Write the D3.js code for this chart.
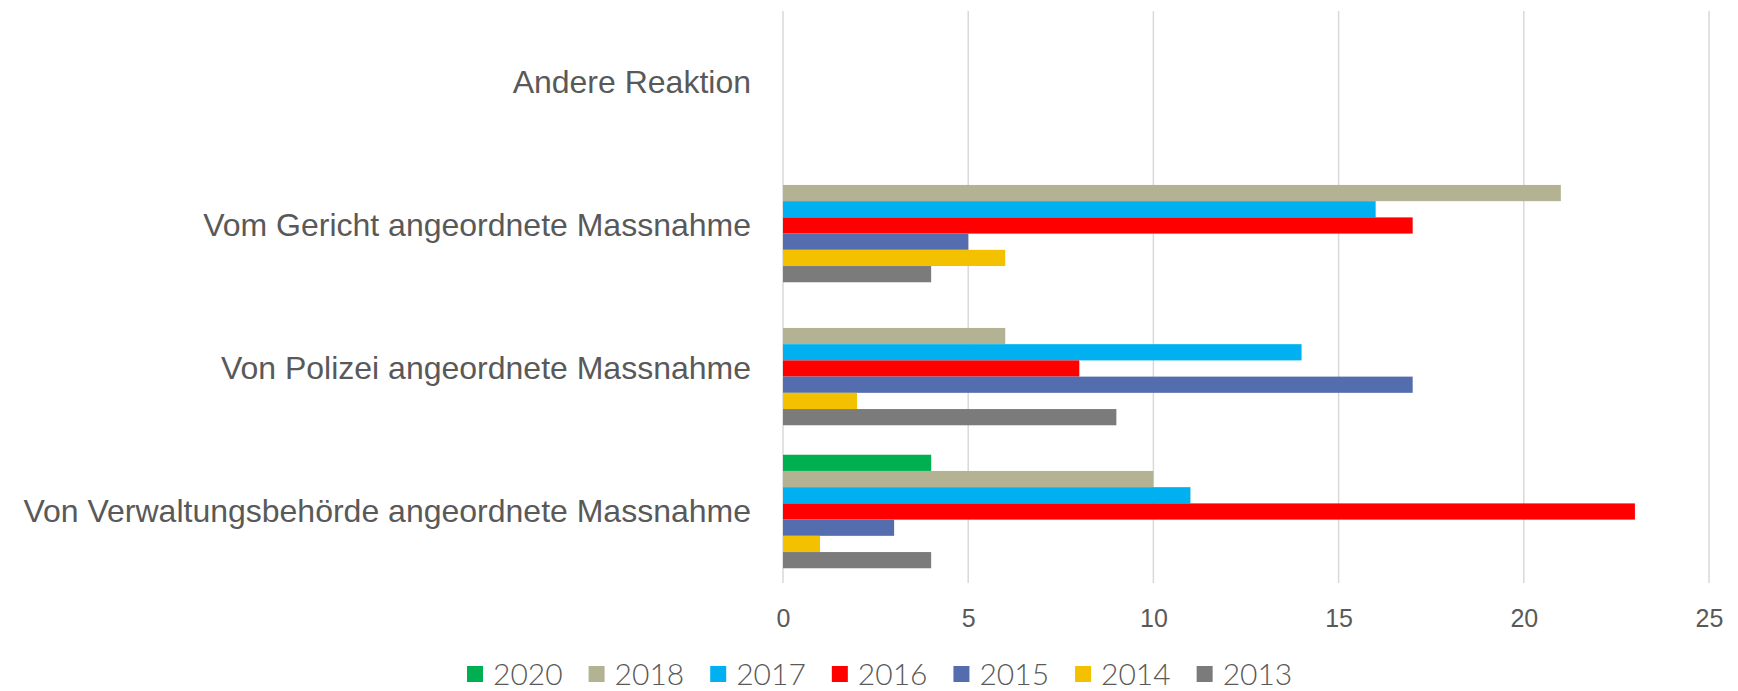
<!DOCTYPE html>
<html>
<head>
<meta charset="utf-8">
<script src="https://cdn.jsdelivr.net/npm/d3@7"></script>
<style>
    html, body { margin: 0; padding: 0; background: #fff; }
    svg { display: block; font-family: Lato, "Noto Sans", sans-serif; }
</style>
</head>
<body>
<div id="chart"></div>
<script>
// categories in sheet order (first one is drawn at the bottom)
const categories = [
    'Von Verwaltungsbehörde angeordnete Massnahme',
    'Von Polizei angeordnete Massnahme',
    'Vom Gericht angeordnete Massnahme',
    'Andere Reaktion'
];
const years = ['2020', '2018', '2017', '2016', '2015', '2014', '2013'];
const colors = ['#00b050', '#b3b393', '#00b0f0', '#ff0000', '#536daf', '#f4c100', '#7b7b7b'];

const values2020 = [4, null, null, null];
const values2018 = [10, 6, 21, null];
const values2017 = [11, 14, 16, null];
const values2016 = [23, 8, 17, null];
const values2015 = [3, 17, 5, null];
const values2014 = [1, 2, 6, null];
const values2013 = [4, 9, 4, null];
const xTicks = [0, 5, 10, 15, 20, 25];

const seriesValues = [values2020, values2018, values2017, values2016, values2015, values2014, values2013];

const width = 1738;
const height = 691;
const margin = {top: 11, right: 29, bottom: 108, left: 783};
const textColor = '#595959';

const svg = d3.select('#chart')
    .append('svg')
    .attr('width', width)
    .attr('height', height);

const x = d3.scaleLinear()
    .domain([0, 25])
    .range([margin.left, width - margin.right]);

const y = d3.scaleBand()
    .domain(categories.slice().reverse())
    .range([margin.top, height - margin.bottom])
    .paddingInner(0.206)
    .paddingOuter(0.103);

const ySeries = d3.scaleBand()
    .domain(years)
    .range([0, y.bandwidth()]);

// grid lines
svg.append('g')
    .selectAll('line')
    .data(xTicks)
    .enter()
    .append('line')
    .attr('x1', d => x(d))
    .attr('x2', d => x(d))
    .attr('y1', margin.top)
    .attr('y2', height - margin.bottom)
    .attr('stroke', '#d9d9d9')
    .attr('stroke-width', 1.5);

// bars
const rows = [];
categories.forEach((cat, i) => {
    years.forEach((year, j) => {
        const v = seriesValues[j][i];
        if (v != null) {
            rows.push({cat: cat, year: year, value: v, color: colors[j]});
        }
    });
});

svg.append('g')
    .selectAll('rect')
    .data(rows)
    .enter()
    .append('rect')
    .attr('x', x(0))
    .attr('y', d => y(d.cat) + ySeries(d.year))
    .attr('width', d => x(d.value) - x(0))
    .attr('height', ySeries.bandwidth())
    .attr('fill', d => d.color);

// x axis labels
const xAxis = svg.append('g')
    .attr('transform', 'translate(0,' + (height - margin.bottom) + ')')
    .call(d3.axisBottom(x).tickValues(xTicks).tickSize(0).tickPadding(26));
xAxis.select('.domain').remove();
xAxis.selectAll('text')
    .attr('fill', textColor)
    .style('font-size', '25px')
    .style('font-weight', 300);

// category labels
const yAxis = svg.append('g')
    .attr('transform', 'translate(' + margin.left + ',0)')
    .call(d3.axisLeft(y).tickSize(0).tickPadding(32));
yAxis.select('.domain').remove();
yAxis.selectAll('text')
    .attr('fill', textColor)
    .style('font-size', '32px')
    .style('font-weight', 300);

// legend
const legend = svg.append('g')
    .attr('transform', 'translate(0,674)');
let lx = 467;
years.forEach((year, j) => {
    const item = legend.append('g').attr('transform', 'translate(' + lx + ',0)');
    item.append('rect')
        .attr('x', 0)
        .attr('y', -8)
        .attr('width', 16)
        .attr('height', 16)
        .attr('fill', colors[j]);
    const t = item.append('text')
        .attr('x', 26)
        .attr('y', 0)
        .attr('dy', '0.35em')
        .attr('fill', textColor)
        .style('font-size', '30px')
        .style('font-weight', 300)
        .text(year);
    lx += 26 + t.node().getComputedTextLength() + 26;
});
</script>
</body>
</html>
